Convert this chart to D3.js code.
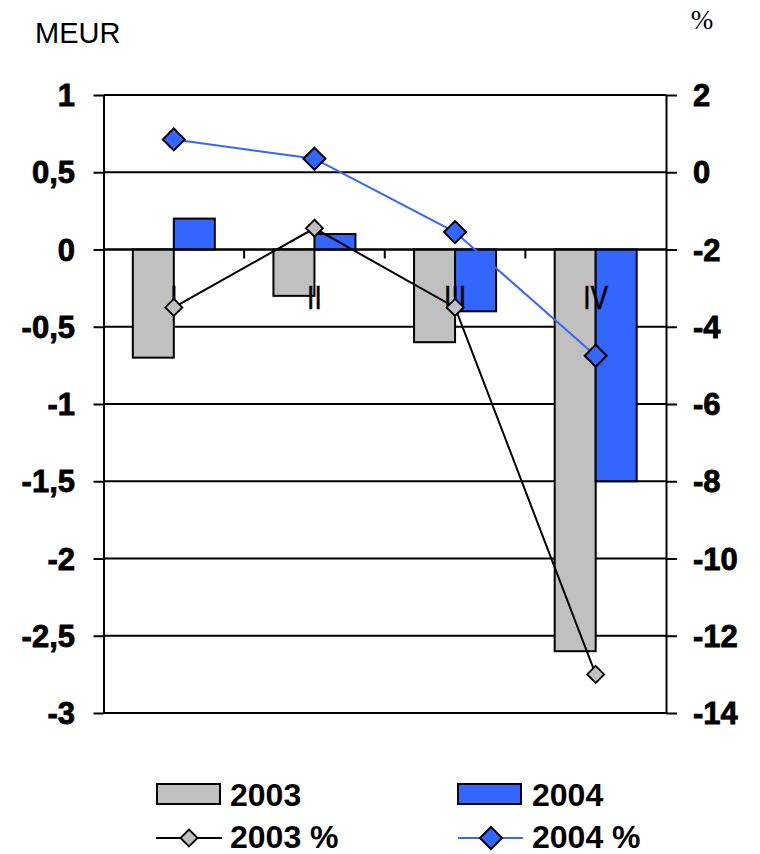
<!DOCTYPE html>
<html><head><meta charset="utf-8">
<script src="https://cdn.jsdelivr.net/npm/d3@7"></script>
<style>body{margin:0;background:#fff}svg{display:block}</style>
</head><body>
<svg id="c" width="760" height="854"></svg>
<script>
const categories = ["I","II","III","IV"];
const series = ["2003","2004"];
const values2003 = [-0.7,-0.3,-0.6,-2.6];
const values2004 = [0.2,0.1,-0.4,-1.5];
const pct2003 = [-3.5,-1.45,-3.5,-13.0];
const pct2004 = [0.85,0.35,-1.55,-4.75];
const leftTicks = [1,0.5,0,-0.5,-1,-1.5,-2,-2.5,-3];
const leftTickLabels = ["1","0,5","0","-0,5","-1","-1,5","-2","-2,5","-3"];
const rightTicks = [2,0,-2,-4,-6,-8,-10,-12,-14];
const rightTickLabels = ["2","0","-2","-4","-6","-8","-10","-12","-14"];
const legendLabels = ["2003","2004","2003 %","2004 %"];

const GRAY="#C0C0C0", BLUE="#3366FF";
const F="'Liberation Sans', Arial, sans-serif";
const FS="'Liberation Serif', 'Times New Roman', serif";
const svg=d3.select("#c");
const L=103.5, R=666, T=95, B=713;
const yL=d3.scaleLinear().domain([-3,1]).range([B,T]);
const yR=d3.scaleLinear().domain([-14,2]).range([B,T]);
const x=d3.scaleBand().domain(categories).range([L,R]).padding(0);
const xs=d3.scaleBand().domain(series).range([0,x.bandwidth()]).paddingInner(0).paddingOuter(0.715);

function txt(g,x0,y0,s,opts){
  return g.append("text").attr("transform",`translate(${x0},${y0}) scale(${opts.sx||1},1)`)
   .attr("font-family",opts.family||F).attr("font-size",opts.size).attr("font-weight",opts.bold?"bold":"normal")
   .attr("text-anchor",opts.anchor||"start").attr("fill","#000").text(s);
}

// gridlines
svg.append("g").selectAll("line").data(leftTicks).join("line")
 .attr("x1",L).attr("x2",R).attr("y1",d=>yL(d)).attr("y2",d=>yL(d))
 .attr("stroke","#000").attr("stroke-width",2);

// bars
const barData=[];
categories.forEach((c,i)=>{barData.push({c,s:"2003",v:values2003[i]});barData.push({c,s:"2004",v:values2004[i]});});
svg.append("g").selectAll("rect").data(barData).join("rect")
 .attr("x",d=>x(d.c)+xs(d.s)).attr("width",xs.bandwidth())
 .attr("y",d=>Math.min(yL(d.v),yL(0))).attr("height",d=>Math.abs(yL(d.v)-yL(0)))
 .attr("fill",d=>d.s==="2003"?GRAY:BLUE).attr("stroke","#000").attr("stroke-width",2);

svg.append("line").attr("x1",L).attr("x2",R).attr("y1",yL(0)).attr("y2",yL(0)).attr("stroke","#000").attr("stroke-width",2);

// category boundary ticks
const bounds=categories.slice(1).map(c=>x(c));
svg.append("g").selectAll("line").data(bounds).join("line")
 .attr("x1",d=>d).attr("x2",d=>d).attr("y1",yL(0)).attr("y2",yL(0)+9)
 .attr("stroke","#000").attr("stroke-width",2);

// category labels
const cl=svg.append("g");
categories.forEach(c=>txt(cl,x(c)+x.bandwidth()/2,309,c,{size:33,sx:0.8,anchor:"middle"}).attr("stroke","#000").attr("stroke-width",0.5));

// axes (lines and ticks via d3.axis, labels drawn separately)
const ga=svg.append("g").attr("transform",`translate(${L},0)`)
 .call(d3.axisLeft(yL).tickValues(leftTicks).tickSize(10).tickSizeOuter(0).tickFormat(""));
const gb=svg.append("g").attr("transform",`translate(${R},0)`)
 .call(d3.axisRight(yR).tickValues(rightTicks).tickSize(11).tickSizeOuter(0).tickFormat(""));
[ga,gb].forEach(g=>{g.select(".domain").attr("stroke-width",2);g.selectAll(".tick line").attr("stroke-width",2);g.selectAll(".tick text").remove();});
const lt=svg.append("g");
leftTicks.forEach((d,i)=>txt(lt,75,yL(d)+11,leftTickLabels[i],{size:31,bold:true,anchor:"end"}).attr("stroke","#000").attr("stroke-width",0.8));
rightTicks.forEach((d,i)=>txt(lt,693,yR(d)+11,rightTickLabels[i],{size:31,bold:true,anchor:"start"}).attr("stroke","#000").attr("stroke-width",0.8));

// lines
const cx=c=>x(c)+x.bandwidth()/2;
const line=d3.line().x(d=>cx(d.c)).y(d=>yR(d.v));
const p03=categories.map((c,i)=>({c,v:pct2003[i]}));
const p04=categories.map((c,i)=>({c,v:pct2004[i]}));
svg.append("path").datum(p03).attr("d",line).attr("fill","none").attr("stroke","#000").attr("stroke-width",2);
svg.append("path").datum(p04).attr("d",line).attr("fill","none").attr("stroke",BLUE).attr("stroke-width",2);
const diamond=r=>`M0,${-r}L${r},0L0,${r}L${-r},0Z`;
svg.append("g").selectAll("path").data(p03).join("path")
 .attr("transform",d=>`translate(${cx(d.c)},${yR(d.v)})`).attr("d",diamond(8.5))
 .attr("fill",GRAY).attr("stroke","#000").attr("stroke-width",1.8);
svg.append("g").selectAll("path").data(p04).join("path")
 .attr("transform",d=>`translate(${cx(d.c)},${yR(d.v)})`).attr("d",diamond(11))
 .attr("fill",BLUE).attr("stroke","#000").attr("stroke-width",2);

// axis titles
txt(svg,35,43,"MEUR",{size:29});
txt(svg,702,29,"%",{size:27,family:FS,anchor:"middle"});

// legend
const lg=svg.append("g");
const lx=[157,458], ly=[794,838];
lg.append("rect").attr("x",lx[0]).attr("y",ly[0]-10).attr("width",63).attr("height",20).attr("fill",GRAY).attr("stroke","#000").attr("stroke-width",2);
lg.append("rect").attr("x",lx[1]).attr("y",ly[0]-10).attr("width",63).attr("height",20).attr("fill",BLUE).attr("stroke","#000").attr("stroke-width",2);
lg.append("line").attr("x1",lx[0]-1).attr("x2",lx[0]+65).attr("y1",ly[1]).attr("y2",ly[1]).attr("stroke","#000").attr("stroke-width",2);
lg.append("path").attr("transform",`translate(${lx[0]+32},${ly[1]})`).attr("d",diamond(8.5)).attr("fill",GRAY).attr("stroke","#000").attr("stroke-width",1.8);
lg.append("line").attr("x1",lx[1]).attr("x2",lx[1]+65).attr("y1",ly[1]).attr("y2",ly[1]).attr("stroke",BLUE).attr("stroke-width",2);
lg.append("path").attr("transform",`translate(${lx[1]+33},${ly[1]})`).attr("d",diamond(11)).attr("fill",BLUE).attr("stroke","#000").attr("stroke-width",2);
txt(lg,230,806,legendLabels[0],{size:32,bold:true});
txt(lg,532,806,legendLabels[1],{size:32,bold:true});
txt(lg,230,848,legendLabels[2],{size:32,bold:true});
txt(lg,532,848,legendLabels[3],{size:32,bold:true});
</script>
</body></html>
